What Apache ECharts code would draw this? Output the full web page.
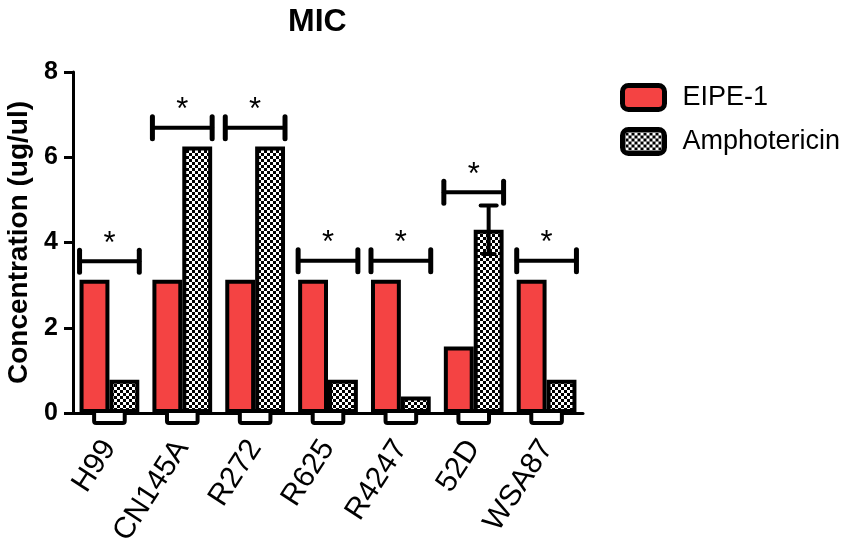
<!DOCTYPE html>
<html>
<head>
<meta charset="utf-8">
<script src="https://cdn.jsdelivr.net/npm/echarts@6/dist/echarts.min.js"></script>
<style>
html,body{margin:0;padding:0;background:#fff;}
#c{width:851px;height:556px;}
</style>
</head>
<body>
<div id="c"></div>
<script>
// ---- data ----
var categories = ['H99', 'CN145A', 'R272', 'R625', 'R4247', '52D', 'WSA87'];
var eipeValues = [3.125, 3.125, 3.125, 3.125, 3.125, 1.5625, 3.125];
var amphoValues = [0.78, 6.25, 6.25, 0.78, 0.39, 4.3, 0.78];
var amphoErrors = [0, 0, 0, 0, 0, 0.57, 0];
var bracketLevels = [3.56, 6.69, 6.69, 3.57, 3.57, 5.18, 3.57];
var bracketMarks = ['*', '*', '*', '*', '*', '*', '*'];
var yTicks = [0, 2, 4, 6, 8];

var FONT = "'Liberation Sans', Arial, Helvetica, sans-serif";
var CAT_GAP = 0.18;

// checker pattern
var pat = document.createElement('canvas');
pat.width = 6; pat.height = 6;
var pc = pat.getContext('2d');
pc.fillStyle = '#fff'; pc.fillRect(0, 0, 6, 6);
pc.fillStyle = '#000'; pc.fillRect(0, 0, 3, 3); pc.fillRect(3, 3, 3, 3);

var chart = echarts.init(document.getElementById('c'), null, {renderer: 'canvas'});

var bracketData = bracketLevels.map(function (v, i) { return [i, v, bracketMarks[i]]; });
var errData = [];
amphoErrors.forEach(function (e, i) { if (e > 0) errData.push([i, amphoValues[i], e]); });
var boxData = categories.map(function (c, i) { return [i, 0]; });

var option = {
  backgroundColor: '#fff',
  animation: false,
  title: {
    text: 'MIC', left: 283, top: 1, padding: 5,
    textStyle: {fontFamily: FONT, fontSize: 32, fontWeight: 'bold', color: '#000'}
  },
  legend: {
    orient: 'vertical', left: 620, top: 83, padding: 0,
    itemWidth: 42, itemHeight: 24, itemGap: 15,
    icon: 'roundRect',
    data: ['EIPE-1', 'Amphotericin'],
    itemStyle: {borderColor: '#000', borderWidth: 5},
    textStyle: {fontFamily: FONT, fontSize: 27, color: '#000', padding: [0, 0, 0, 13], lineHeight: 24}
  },
  grid: {left: 73, right: 268, top: 72, bottom: 143, containLabel: false, outerBoundsMode: 'none'},
  xAxis: {
    type: 'category', data: categories,
    axisLine: {lineStyle: {color: '#000', width: 3}},
    axisTick: {show: false},
    axisLabel: {rotate: 57, margin: 30, padding: [10, 0, 0, 0], fontFamily: FONT, fontSize: 30, color: '#000', interval: 0}
  },
  yAxis: {
    type: 'value', min: yTicks[0], max: yTicks[yTicks.length - 1], interval: 2,
    name: 'Concentration (ug/ul)', nameLocation: 'middle', nameGap: 38,
    nameTextStyle: {fontFamily: FONT, fontSize: 28, fontWeight: 'bold', color: '#000'},
    axisLine: {show: true, lineStyle: {color: '#000', width: 3}},
    axisTick: {show: true, length: 9, lineStyle: {color: '#000', width: 3}},
    axisLabel: {fontFamily: FONT, fontSize: 25, fontWeight: 'bold', color: '#000', margin: 15},
    splitLine: {show: false}
  },
  series: [
    {
      name: 'under-axis', type: 'custom', z: 1, silent: true,
      data: boxData,
      renderItem: function (params, api) {
        var c = api.coord([api.value(0), 0]);
        var band = api.size([1, 0])[0];
        var w = band * 0.42;
        return {
          type: 'rect',
          shape: {x: c[0] - w / 2, y: c[1] - 2, width: w, height: 12, r: [0, 0, 2, 2]},
          style: {fill: '#fff', stroke: '#000', lineWidth: 4}
        };
      }
    },
    {
      name: 'EIPE-1', type: 'bar', data: eipeValues,
      barGap: '0%', barCategoryGap: (CAT_GAP * 100) + '%',
      itemStyle: {color: '#F44343', borderColor: '#000', borderWidth: 4},
      z: 2
    },
    {
      name: 'Amphotericin', type: 'bar', data: amphoValues,
      barGap: '0%', barCategoryGap: (CAT_GAP * 100) + '%',
      itemStyle: {color: {image: pat, repeat: 'repeat'}, borderColor: '#000', borderWidth: 4},
      z: 2
    },
    {
      name: 'error', type: 'custom', z: 5, silent: true,
      data: errData,
      renderItem: function (params, api) {
        var i = api.value(0), m = api.value(1), e = api.value(2);
        var band = api.size([1, 0])[0];
        var off = band * (1 - CAT_GAP) / 4;
        var top = api.coord([i, m + e]);
        var bot = api.coord([i, m - e]);
        var x = top[0] + off;
        var st = {stroke: '#000', lineWidth: 4};
        return {type: 'group', children: [
          {type: 'line', shape: {x1: x, y1: top[1], x2: x, y2: bot[1]}, style: st},
          {type: 'line', shape: {x1: x - 8, y1: top[1], x2: x + 8, y2: top[1]}, style: {stroke: '#000', lineWidth: 4, lineCap: 'round'}},
          {type: 'line', shape: {x1: x - 6, y1: bot[1], x2: x + 6, y2: bot[1]}, style: {stroke: '#000', lineWidth: 4, lineCap: 'round'}}
        ]};
      }
    },
    {
      name: 'significance', type: 'custom', z: 5, silent: true,
      data: bracketData,
      renderItem: function (params, api) {
        var i = api.value(0), lvl = api.value(1);
        var c = api.coord([i, lvl]);
        var band = api.size([1, 0])[0];
        var half = band * (1 - CAT_GAP) / 2;
        var st = {stroke: '#000', lineWidth: 4, lineCap: 'round'};
        return {type: 'group', children: [
          {type: 'line', shape: {x1: c[0] - half, y1: c[1], x2: c[0] + half, y2: c[1]}, style: st},
          {type: 'line', shape: {x1: c[0] - half, y1: c[1] - 11, x2: c[0] - half, y2: c[1] + 11}, style: {stroke: '#000', lineWidth: 5, lineCap: 'round'}},
          {type: 'line', shape: {x1: c[0] + half, y1: c[1] - 11, x2: c[0] + half, y2: c[1] + 11}, style: {stroke: '#000', lineWidth: 5, lineCap: 'round'}},
          {type: 'text', x: c[0], y: c[1] - 17, style: {text: bracketData[params.dataIndex][2], fontFamily: FONT, fontSize: 31, fill: '#000', align: 'center', verticalAlign: 'middle'}}
        ]};
      }
    }
  ]
};
chart.setOption(option);
</script>
</body>
</html>
